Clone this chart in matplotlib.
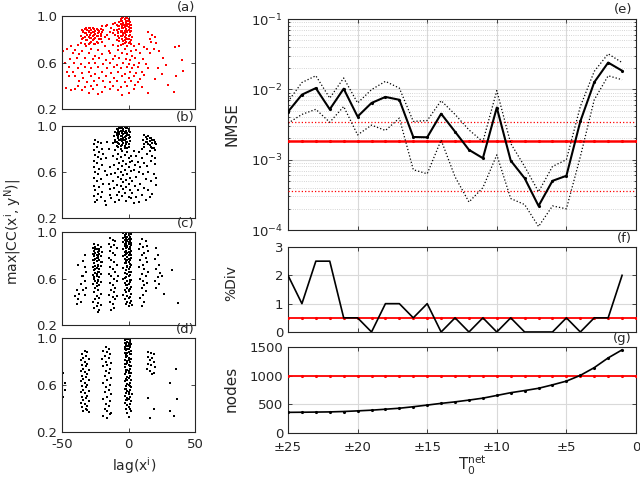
import matplotlib
matplotlib.use('Agg')
import matplotlib.pyplot as plt
from matplotlib.ticker import LogLocator, NullFormatter

# ---------------- data ----------------
T = list(range(25, 0, -1))
T_ref = list(range(25, -1, -1))
nmse_mean = [4.8e-3, 8.4e-3, 1.04e-2, 5.2e-3, 1.02e-2, 4.1e-3, 6.4e-3, 7.8e-3, 7.1e-3,
             2.1e-3, 2.08e-3, 4.5e-3, 2.5e-3, 1.38e-3, 1.05e-3, 5.5e-3, 9.7e-4, 5.45e-4,
             2.2e-4, 5.0e-4, 5.9e-4, 3.5e-3, 1.26e-2, 2.4e-2, 1.84e-2]
nmse_hi = [6.7e-3, 1.25e-2, 1.56e-2, 7.5e-3, 1.45e-2, 6.4e-3, 9.9e-3, 1.3e-2, 1.04e-2,
           3.5e-3, 3.6e-3, 6.9e-3, 4.4e-3, 2.65e-3, 1.8e-3, 9.6e-3, 1.7e-3, 8.0e-4,
           3.5e-4, 8.0e-4, 1.0e-3, 5.7e-3, 1.8e-2, 3.2e-2, 2.4e-2]
nmse_lo = [3.3e-3, 4.4e-3, 5.2e-3, 3.4e-3, 5.7e-3, 2.25e-3, 3.1e-3, 2.6e-3, 3.9e-3,
           7.2e-4, 6.3e-4, 1.9e-3, 5.7e-4, 2.5e-4, 4.0e-4, 1.17e-3, 2.8e-4, 2.3e-4,
           1.12e-4, 2.2e-4, 2.0e-4, 1.1e-3, 7.1e-3, 1.56e-2, 1.37e-2]
nmse_ref = 1.85e-3
nmse_ref_hi = 3.4e-3
nmse_ref_lo = 3.6e-4
pdiv = [2, 1, 2.5, 2.5, 0.5, 0.5, 0, 1, 1, 0.5, 1, 0, 0.5, 0, 0.5, 0, 0.5, 0, 0, 0,
        0.5, 0, 0.5, 0.5, 2]
pdiv_ref = 0.5
nodes = [360, 362, 365, 368, 375, 386, 398, 415, 432, 458, 487, 517, 543, 574, 608,
         655, 703, 740, 780, 840, 905, 1005, 1140, 1310, 1450]
nodes_ref = 1000
x_ticks = [25, 20, 15, 10, 5, 0]
x_ticklabels = ['±25', '±20', '±15', '±10', '±5', '0']

pts_a = [
    (-4,0.99),(-2,0.98),(-6,0.97),(-3,0.97),(0,0.97),(-5,0.96),(-1,0.96),(1,0.95),(-7,0.95),(-4,0.94),
    (-2,0.94),(0,0.93),(-6,0.93),(-3,0.92),(2,0.92),(-8,0.91),(-5,0.91),(-1,0.91),(1,0.90),(-4,0.90),
    (-7,0.89),(-2,0.89),(0,0.88),(-9,0.88),(-5,0.87),(-3,0.87),(2,0.87),(-6,0.86),(-1,0.86),(-8,0.85),
    (-4,0.85),(1,0.84),(-2,0.84),(-10,0.84),(-6,0.83),(0,0.83),(-3,0.82),(3,0.82),(-7,0.81),(-1,0.80),
    (-5,0.80),(2,0.79),(-9,0.79),(-2,0.78),(0,0.77),(-4,0.76),(-6,0.75),
    (-5,0.985),(-3,0.975),(-1,0.985),(-6,0.955),(-2,0.955),(0,0.955),(-4,0.925),(-1,0.935),(1,0.925),
    (-7,0.915),(-3,0.905),(0,0.905),(-5,0.895),(-1,0.875),(2,0.895),(-6,0.875),(-3,0.855),(-8,0.865),
    (1,0.865),(-4,0.835),(-2,0.815),(-5,0.825),(-8,0.825),(0,0.805),(-3,0.795),(-7,0.785),(1,0.775),
    (-4,0.785),(-1,0.745),(-3,0.765),(-8,0.74),(2,0.76),
    (-33,0.89),(-30,0.90),(-27,0.90),(-24,0.89),(-21,0.89),(-35,0.88),(-31,0.88),(-28,0.88),(-25,0.87),
    (-22,0.87),(-19,0.88),(-34,0.86),(-30,0.86),(-27,0.86),(-23,0.85),(-20,0.86),(-32,0.85),(-29,0.84),
    (-26,0.84),(-24,0.83),(-21,0.83),(-36,0.83),(-33,0.82),(-30,0.82),(-28,0.81),(-25,0.81),(-22,0.80),
    (-18,0.82),(-35,0.80),(-31,0.79),(-27,0.79),(-24,0.78),(-20,0.78),(-29,0.77),(-33,0.76),(-26,0.76),
    (-32,0.895),(-29,0.895),(-26,0.885),(-23,0.88),(-34,0.875),(-30,0.875),(-26,0.865),(-22,0.86),
    (-33,0.855),(-28,0.855),(-25,0.845),(-21,0.845),(-31,0.835),(-27,0.83),(-23,0.825),(-34,0.815),
    (-29,0.81),(-26,0.80),(-21,0.805),(-32,0.795),(-28,0.775),(-23,0.77),(-30,0.76),(-25,0.755),(-36,0.77),
    (-16,0.84),(-14,0.86),(-12,0.85),(-15,0.80),(-11,0.88),(-13,0.90),(-17,0.91),(-9,0.92),
    (-20,0.91),(-16,0.92),(-12,0.93),(-10,0.94),
    (-43,0.74),(-38,0.75),(-32,0.74),(-18,0.74),(-12,0.75),(4,0.74),(8,0.76),(12,0.73),
    (-46,0.72),(-40,0.71),(-35,0.70),(-28,0.72),(-23,0.71),(-15,0.70),(-8,0.71),(-3,0.72),(2,0.70),(6,0.71),(14,0.72),
    (-42,0.68),(-37,0.67),(-30,0.68),(-25,0.66),(-20,0.67),(-14,0.68),(-10,0.66),(-5,0.68),(-1,0.67),(3,0.66),(9,0.68),(16,0.68),
    (-44,0.63),(-39,0.64),(-33,0.64),(-27,0.63),(-22,0.64),(-17,0.62),(-12,0.63),(-7,0.64),(-2,0.63),(1,0.62),(5,0.64),(11,0.63),
    (-41,0.60),(-36,0.59),(-30,0.60),(-25,0.60),(-19,0.59),(-14,0.60),(-9,0.58),(-4,0.60),(0,0.59),(4,0.58),(8,0.60),(13,0.59),
    (-45,0.56),(-38,0.55),(-33,0.56),(-28,0.55),(-23,0.56),(-16,0.55),(-11,0.56),(-6,0.55),(-1,0.56),(3,0.55),(7,0.56),(15,0.55),
    (-42,0.52),(-35,0.51),(-30,0.52),(-25,0.50),(-20,0.52),(-13,0.51),(-8,0.52),(-3,0.50),(1,0.52),(6,0.51),(10,0.52),
    (-40,0.48),(-34,0.47),(-28,0.48),(-22,0.47),(-17,0.48),(-11,0.47),(-5,0.48),(0,0.47),(4,0.48),(9,0.46),(12,0.49),
    (-37,0.44),(-31,0.43),(-26,0.44),(-19,0.44),(-14,0.43),(-9,0.44),(-3,0.43),(2,0.44),(7,0.43),
    (-38,0.40),(-33,0.39),(-28,0.40),(-24,0.41),(-18,0.39),(-12,0.40),(-6,0.39),(-1,0.40),(5,0.41),(10,0.39),
    (-40,0.37),(-35,0.36),(-27,0.37),(-20,0.35),(-14,0.37),(-8,0.36),(0,0.34),(4,0.37),(15,0.34),
    (-23,0.33),(-5,0.32),(-30,0.34),
    (15,0.86),(18,0.84),(20,0.82),(17,0.78),(21,0.77),(19,0.72),(23,0.70),(16,0.80),(35,0.73),(40,0.62),
    (41,0.53),(36,0.48),(26,0.64),(30,0.41),(34,0.35),(28,0.58),(22,0.55),(20,0.46),(25,0.50),(38,0.74),
    (-49.5,0.70),(-47,0.38),(-44.5,0.48),(-43,0.36),(-48,0.60),(-46,0.52),
]
pts_b = [
    (-5,0.99),(-3,0.99),(-7,0.98),(-1,0.98),(-9,0.97),(-4,0.97),(0,0.97),(-6,0.96),(-2,0.96),(-10,0.95),
    (-8,0.95),(-3,0.95),(1,0.95),(-5,0.94),(-1,0.94),(-7,0.93),(-4,0.93),(0,0.92),(-9,0.92),(-6,0.91),
    (-2,0.91),(-11,0.91),(-8,0.90),(-4,0.90),(0,0.90),(-6,0.89),(-2,0.89),(-10,0.88),(-7,0.88),(-3,0.88),
    (1,0.87),(-5,0.87),(-9,0.86),(-1,0.86),(-4,0.85),(-7,0.84),(-2,0.84),(-12,0.85),(-6,0.83),(0,0.82),
    (-8,0.82),(-3,0.81),
    (-6,0.985),(-2,0.985),(-8,0.965),(-4,0.955),(0,0.955),(-7,0.945),(-3,0.935),(-9,0.935),(-1,0.925),
    (-5,0.915),(-8,0.915),(-3,0.905),(1,0.905),(-6,0.875),(-2,0.865),(-10,0.865),(-4,0.875),(-8,0.855),
    (0,0.845),(-5,0.835),(-9,0.83),(-3,0.825),(-1,0.81),(-6,0.80),
    (12,0.92),(15,0.91),(17,0.90),(14,0.89),(19,0.88),(11,0.88),(16,0.87),(20,0.86),(13,0.86),(18,0.85),
    (21,0.84),(15,0.84),(17,0.82),(19,0.81),(12,0.82),(20,0.79),(16,0.78),(10,0.80),(14,0.76),(18,0.74),
    (13,0.905),(16,0.895),(18,0.875),(14,0.865),(20,0.85),(16,0.835),(12,0.845),(18,0.805),
    (-25,0.88),(-23,0.86),(-26,0.84),(-21,0.85),(-24,0.82),(-20,0.80),(-26,0.79),(-22,0.77),(-25,0.75),
    (-19,0.76),(-23,0.73),(-26,0.70),(-21,0.71),(-24,0.68),(-20,0.66),(-26,0.64),(-22,0.63),(-25,0.60),
    (-18,0.61),(-23,0.58),(-26,0.55),(-21,0.54),(-24,0.52),(-19,0.50),(-26,0.48),(-22,0.47),(-25,0.44),
    (-20,0.43),(-23,0.41),(-26,0.39),(-21,0.38),(-24,0.36),(-18,0.35),(-25,0.34),(-17,0.31),(-16,0.86),
    (-15,0.80),(-17,0.72),(-14,0.64),(-16,0.57),
    (-10,0.79),(-5,0.78),(-1,0.77),(-8,0.76),(-3,0.75),(2,0.74),(-12,0.74),(-6,0.73),(0,0.72),(-9,0.71),
    (-4,0.70),(1,0.69),(-7,0.68),(-2,0.67),(-11,0.66),(-5,0.65),(0,0.64),(-8,0.63),(-3,0.62),(2,0.61),
    (-6,0.60),(-10,0.59),(-1,0.58),(-4,0.57),(-8,0.56),(1,0.55),(-6,0.54),(-2,0.53),(-12,0.52),(-4,0.51),
    (0,0.50),(-9,0.49),(-6,0.48),(-2,0.47),(-11,0.46),(-4,0.45),(1,0.44),(-7,0.43),(-3,0.42),(-9,0.40),
    (-5,0.39),(0,0.38),(-13,0.37),(-7,0.36),(-2,0.35),(-10,0.34),(-14,0.45),(-13,0.58),(-15,0.50),(-14,0.40),
    (4,0.78),(8,0.77),(6,0.74),(10,0.72),(3,0.70),(7,0.69),(12,0.68),(5,0.66),(9,0.64),(14,0.65),
    (17,0.70),(20,0.67),(4,0.62),(8,0.60),(11,0.58),(15,0.60),(19,0.58),(6,0.56),(13,0.54),(3,0.52),
    (9,0.50),(17,0.52),(21,0.49),(5,0.48),(12,0.46),(7,0.44),(15,0.44),(3,0.42),(10,0.40),(18,0.41),
    (6,0.38),(13,0.36),(2,0.37),(8,0.34),(4,0.33),(16,0.38),(21,0.55),(20,0.72),
]
pts_c = [
    (-39,0.50),(-40,0.45),(-38,0.42),(-39,0.38),(-37,0.47),(-36,0.55),(-35,0.62),(-33,0.80),(-34,0.75),
    (-33,0.70),(-32,0.66),(-34,0.62),(-33,0.58),(-32,0.52),(-34,0.50),(-33,0.46),(-38,0.72),(-36,0.40),
    (-26,0.90),(-23,0.89),(-25,0.87),(-21,0.87),(-27,0.86),(-24,0.85),(-22,0.85),(-26,0.84),(-23,0.83),
    (-20,0.83),(-25,0.82),(-27,0.81),(-22,0.81),(-24,0.80),(-26,0.79),(-21,0.79),(-23,0.78),(-25,0.77),
    (-27,0.76),(-22,0.76),(-24,0.75),(-20,0.74),(-26,0.73),(-23,0.72),(-25,0.71),(-21,0.71),(-27,0.70),
    (-24,0.69),(-22,0.68),(-26,0.67),(-23,0.66),(-25,0.65),(-21,0.64),(-27,0.63),(-24,0.62),(-22,0.61),
    (-26,0.60),(-23,0.59),(-25,0.58),(-21,0.57),(-24,0.56),(-27,0.55),(-22,0.54),(-25,0.52),(-23,0.50),
    (-26,0.48),(-21,0.47),(-24,0.45),(-22,0.43),(-25,0.42),(-27,0.40),(-23,0.39),(-21,0.37),(-24,0.36),
    (-26,0.35),(-22,0.33),(-23,0.31),
    (-25,0.855),(-22,0.835),(-26,0.815),(-23,0.795),(-24,0.775),(-26,0.755),(-21,0.745),(-23,0.705),
    (-25,0.685),(-22,0.655),(-24,0.635),(-26,0.615),(-23,0.575),(-24,0.535),
    (-14,0.95),(-12,0.93),(-10,0.92),(-15,0.90),(-11,0.89),(-13,0.87),(-9,0.86),(-14,0.84),(-12,0.82),
    (-10,0.80),(-15,0.78),(-13,0.76),(-11,0.74),(-9,0.72),(-14,0.70),(-12,0.68),(-10,0.66),(-15,0.64),
    (-13,0.62),(-11,0.60),(-9,0.58),(-14,0.56),(-12,0.54),(-10,0.52),(-13,0.50),(-11,0.48),(-15,0.46),
    (-12,0.44),(-10,0.42),(-14,0.40),(-12,0.38),(-11,0.35),(-13,0.33),(-9,0.45),(-8,0.62),
    (-3,1.00),(-1,1.00),(1,0.99),(-4,0.99),(0,0.99),(-2,0.98),(2,0.98),(-3,0.97),(0,0.97),(-1,0.96),
    (1,0.96),(-4,0.95),(-2,0.95),(2,0.94),(0,0.94),(-3,0.93),(-1,0.92),(1,0.92),(-4,0.91),(-2,0.90),
    (0,0.90),(2,0.89),(-3,0.88),(-1,0.88),(1,0.87),(-2,0.86),(0,0.85),(-4,0.85),(2,0.84),(-3,0.83),
    (-1,0.82),(1,0.82),(-2,0.81),(0,0.80),(-4,0.79),(2,0.78),(-3,0.77),(-1,0.76),(1,0.76),(-2,0.75),
    (0,0.74),(-3,0.73),(2,0.72),(-1,0.71),(1,0.70),(-4,0.69),(0,0.68),(-2,0.67),(2,0.66),(-3,0.65),
    (-1,0.64),(1,0.63),(0,0.62),(-2,0.61),(-4,0.60),(2,0.59),(-1,0.58),(1,0.57),(-3,0.56),(0,0.55),
    (-2,0.54),(2,0.53),(-1,0.52),(1,0.51),(-3,0.50),(0,0.49),(-2,0.48),(2,0.47),(-4,0.46),(-1,0.45),
    (1,0.44),(0,0.43),(-3,0.42),(2,0.41),(-1,0.40),(1,0.39),(-2,0.38),(0,0.36),(3,0.37),
    (-2,0.995),(0,0.985),(-3,0.955),(1,0.945),(-1,0.935),(-2,0.915),(0,0.915),(2,0.905),(-3,0.895),
    (-1,0.875),(1,0.855),(-2,0.835),(0,0.825),(-3,0.805),(2,0.805),(-1,0.785),(0,0.765),(-2,0.735),
    (1,0.725),(-1,0.695),(0,0.655),(-3,0.605),(1,0.585),(-1,0.545),(0,0.505),
    (10,0.94),(13,0.92),(9,0.90),(14,0.88),(11,0.87),(8,0.85),(15,0.84),(12,0.82),(10,0.80),(13,0.78),
    (9,0.76),(14,0.74),(11,0.72),(8,0.70),(12,0.68),(15,0.66),(10,0.64),(13,0.62),(9,0.60),(11,0.58),
    (14,0.56),(12,0.54),(10,0.52),(13,0.49),(11,0.46),(9,0.43),(12,0.40),(10,0.36),
    (21,0.86),(22,0.80),(20,0.77),(23,0.72),(21,0.68),(24,0.65),(22,0.61),(20,0.58),(23,0.55),(21,0.52),
    (27,0.47),(33,0.67),(37,0.39),(25,0.62),
]
pts_d = [
    (-49,0.70),(-48,0.62),(-48,0.56),(-49,0.50),
    (-33,0.89),(-31,0.88),(-35,0.86),(-32,0.85),(-34,0.83),(-30,0.82),(-36,0.81),(-33,0.80),(-31,0.78),
    (-35,0.77),(-32,0.76),(-34,0.74),(-30,0.73),(-36,0.72),(-33,0.71),(-31,0.69),(-35,0.68),(-32,0.67),
    (-34,0.65),(-30,0.64),(-36,0.63),(-33,0.62),(-31,0.60),(-35,0.59),(-32,0.58),(-34,0.56),(-30,0.55),
    (-36,0.54),(-33,0.53),(-31,0.51),(-35,0.50),(-32,0.49),(-34,0.47),(-30,0.46),(-36,0.45),(-33,0.44),
    (-31,0.42),(-35,0.41),(-32,0.40),(-34,0.38),(-30,0.37),(-31,0.39),
    (-17,0.92),(-15,0.91),(-19,0.89),(-16,0.88),(-14,0.86),(-18,0.85),(-15,0.83),(-20,0.82),(-17,0.80),
    (-13,0.79),(-16,0.77),(-19,0.76),(-14,0.74),(-17,0.72),(-15,0.70),(-18,0.68),(-13,0.66),(-16,0.64),
    (-19,0.62),(-14,0.60),(-17,0.58),(-15,0.56),(-18,0.54),(-13,0.52),(-16,0.50),(-19,0.48),(-14,0.46),
    (-17,0.44),(-15,0.42),(-18,0.40),(-16,0.38),(-13,0.36),(-19,0.34),(-16,0.32),(-14,0.35),
    (-2,0.99),(0,0.99),(-3,0.98),(1,0.98),(-1,0.97),(-3,0.96),(0,0.96),(2,0.95),(-2,0.94),(0,0.93),
    (-3,0.92),(1,0.92),(-1,0.91),(-2,0.90),(2,0.89),(0,0.88),(-3,0.87),(1,0.86),(-1,0.85),(-2,0.84),
    (0,0.83),(2,0.82),(-3,0.81),(1,0.80),(-1,0.79),(-2,0.78),(0,0.77),(2,0.76),(-3,0.75),(1,0.74),
    (-1,0.73),(0,0.72),(-2,0.71),(2,0.70),(-3,0.69),(1,0.68),(-1,0.67),(0,0.66),(-2,0.65),(2,0.64),
    (-3,0.63),(1,0.62),(-1,0.61),(0,0.60),(-2,0.59),(2,0.58),(-3,0.57),(1,0.56),(-1,0.55),(0,0.54),
    (-2,0.53),(3,0.52),(-3,0.51),(1,0.50),(-1,0.49),(0,0.48),(-2,0.47),(2,0.46),(1,0.44),(-1,0.43),
    (0,0.41),(-2,0.40),(2,0.38),(-1,0.36),(0,0.33),(-3,0.45),
    (-1,0.995),(-3,0.985),(1,0.965),(-2,0.955),(0,0.945),(-1,0.935),(1,0.935),(-3,0.905),(0,0.905),
    (-1,0.875),(2,0.865),(-2,0.855),(0,0.815),(-1,0.805),(-3,0.775),(1,0.765),(-2,0.725),(0,0.705),
    (-1,0.645),(1,0.595),(-2,0.565),(0,0.525),(-1,0.475),(1,0.395),
    (15,0.88),(17,0.87),(19,0.86),(15,0.84),(18,0.83),(16,0.81),(19,0.80),(15,0.78),(17,0.77),(20,0.75),
    (14,0.74),(16,0.72),(19,0.70),(18,0.69),(15,0.49),(19,0.40),(16,0.32),
    (35.5,0.74),(31.5,0.62),(36.7,0.48),(31.5,0.38),(34.5,0.34),
]
scatter_sets = [(pts_a, 'red', '(a)'), (pts_b, 'black', '(b)'),
                (pts_c, 'black', '(c)'), (pts_d, 'black', '(d)')]

# ---------------- figure ----------------
W, H = 640, 479
fig = plt.figure(figsize=(W / 100, H / 100), dpi=100)
plt.rcParams['font.family'] = 'DejaVu Sans'
AX_COL = '#262626'
TICK_FS = 9.5
LAB_FS = 10


def px_axes(x0, y0, x1, y1):
    return fig.add_axes([x0 / W, 1 - y1 / H, (x1 - x0) / W, (y1 - y0) / H])


def style(ax, xpad=4.5):
    for s in ax.spines.values():
        s.set_color(AX_COL)
        s.set_linewidth(0.8)
    ax.tick_params(direction='in', which='both', top=True, right=True,
                   colors=AX_COL, labelcolor=AX_COL, labelsize=TICK_FS, length=3, width=0.6)
    ax.tick_params(which='minor', length=1.5)
    ax.tick_params(axis='x', pad=xpad)
    ax.tick_params(axis='y', pad=3.5)


# left scatter panels
left_boxes = [(62, 16, 195, 109), (62, 126, 195, 218), (62, 232, 195, 325), (62, 338, 195, 432)]
for i, ((pts, col, lab), box) in enumerate(zip(scatter_sets, left_boxes)):
    ax = px_axes(*box)
    lags = [p[0] for p in pts]
    ccs = [p[1] for p in pts]
    ax.scatter(lags, ccs, s=4.5, c=col, marker='s', linewidths=0)
    ax.set_xlim(-50, 50)
    ax.set_ylim(0.2, 1.0)
    ax.set_yticks([0.2, 0.6, 1.0])
    ax.set_yticklabels(['0.2', '0.6', '1.0'])
    ax.set_xticks([-50, 0, 50])
    if i < 3:
        ax.set_xticklabels([])
    else:
        ax.set_xticklabels(['-50', '0', '50'])
    style(ax)
    fig.text(box[2] / W, 1 - (box[1] - 2) / H, lab, ha='right', va='bottom',
             fontsize=LAB_FS - 0.5, color=AX_COL)

fig.text(13 / W, 1 - 232 / H, r'max|CC(x$^{\mathrm{i}}$, y$^{\mathrm{N}}$)|', rotation=90,
         ha='center', va='center', fontsize=LAB_FS, color=AX_COL)
fig.text(134 / W, 1 - 466 / H, r'lag(x$^{\mathrm{i}}$)', ha='center', va='center',
         fontsize=LAB_FS, color=AX_COL)

# right panels
grid_major = dict(color='#d9d9d9', linewidth=0.8, linestyle='-')
grid_minor = dict(color='#c8c8c8', linewidth=0.6, linestyle=':')

# (e)
axe = px_axes(288, 19, 636, 230)
axe.set_yscale('log')
axe.plot(T_ref, [nmse_ref] * len(T_ref), color='red', lw=1.8, marker='.', ms=2.5, zorder=3)
axe.plot(T_ref, [nmse_ref_hi] * len(T_ref), color='red', lw=0.9, ls=':', zorder=3)
axe.plot(T_ref, [nmse_ref_lo] * len(T_ref), color='red', lw=0.9, ls=':', zorder=3)
axe.plot(T, nmse_hi, color='black', lw=0.9, ls=':', zorder=4)
axe.plot(T, nmse_lo, color='black', lw=0.9, ls=':', zorder=4)
axe.plot(T, nmse_mean, color='black', lw=1.5, marker='.', ms=2.5, zorder=5)
axe.set_ylim(1e-4, 1e-1)
axe.set_xlim(25, 0)
axe.set_xticks(x_ticks)
axe.set_xticklabels([])
axe.yaxis.set_major_locator(LogLocator(base=10, numticks=10))
axe.yaxis.set_minor_locator(LogLocator(base=10, subs=range(2, 10), numticks=20))
axe.yaxis.set_minor_formatter(NullFormatter())
axe.grid(True, which='major', **grid_major)
axe.grid(True, which='minor', axis='y', **grid_minor)
axe.set_axisbelow(True)
style(axe)
fig.text(632 / W, 1 - 16 / H, '(e)', ha='right', va='bottom', fontsize=LAB_FS - 0.5, color=AX_COL)
fig.text(232 / W, 1 - 124 / H, 'NMSE', rotation=90, ha='center', va='center',
         fontsize=LAB_FS + 1, color=AX_COL)

# (f)
axf = px_axes(288, 247, 636, 332)
axf.plot(T_ref, [pdiv_ref] * len(T_ref), color='red', lw=1.3, marker='.', ms=2.5, zorder=3)
axf.plot(T, pdiv, color='black', lw=1.2, zorder=4)
axf.set_xlim(25, 0)
axf.set_ylim(0, 3)
axf.set_yticks([0, 1, 2, 3])
axf.set_xticks(x_ticks)
axf.set_xticklabels([])
axf.grid(True, which='major', **grid_major)
axf.set_axisbelow(True)
style(axf)
fig.text(632 / W, 1 - 245 / H, '(f)', ha='right', va='bottom', fontsize=LAB_FS - 0.5, color=AX_COL)
fig.text(231 / W, 1 - 283 / H, '%Div', rotation=90, ha='center', va='center',
         fontsize=LAB_FS, color=AX_COL)

# (g)
axg = px_axes(288, 347, 636, 433)
axg.plot(T_ref, [nodes_ref] * len(T_ref), color='red', lw=1.3, marker='.', ms=2.5, zorder=3)
axg.plot(T, nodes, color='black', lw=1.2, marker='.', ms=2.5, zorder=4)
axg.set_xlim(25, 0)
axg.set_ylim(0, 1500)
axg.set_yticks([0, 500, 1000, 1500])
axg.set_xticks(x_ticks)
axg.set_xticklabels(x_ticklabels)
axg.grid(True, which='major', **grid_major)
axg.set_axisbelow(True)
style(axg, xpad=6)
for lbl in axg.get_yticklabels():
    lbl.set_verticalalignment('center_baseline')
fig.text(632 / W, 1 - 345 / H, '(g)', ha='right', va='bottom', fontsize=LAB_FS - 0.5, color=AX_COL)
fig.text(231 / W, 1 - 389 / H, 'nodes', rotation=90, ha='center', va='center',
         fontsize=LAB_FS + 1, color=AX_COL)
fig.text(472 / W, 1 - 465 / H, r'T$_0^{\mathrm{net}}$', ha='center', va='center',
         fontsize=LAB_FS + 1, color=AX_COL)

fig.savefig('out.png', dpi=100)
